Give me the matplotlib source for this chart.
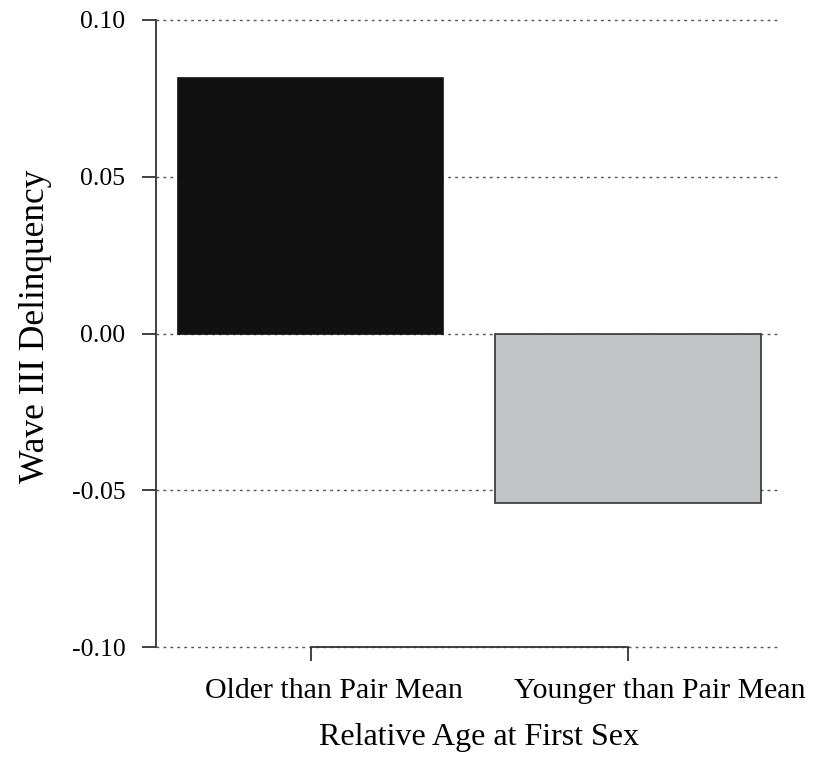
import matplotlib
matplotlib.use("Agg")
import matplotlib.pyplot as plt
from matplotlib.transforms import blended_transform_factory

categories = ["Older than Pair Mean", "Younger than Pair Mean"]
values = [0.0815, -0.054]
colors = ["#111111", "#c3c4c6"]
yticks = [-0.10, -0.05, 0.00, 0.05, 0.10]
ytick_labels = ["-0.10", "-0.05", "0.00", "0.05", "0.10"]

plt.rcParams['font.family'] = ['Liberation Serif', 'DejaVu Serif']

fig = plt.figure(figsize=(8.29, 7.58), dpi=100)
ax = fig.add_axes([156/829, 111/758, 622/829, 627/758])

pos = [1, 2]
ax.bar(pos, values, width=0.836, color=colors, edgecolor=["#111111", "#333333"],
       linewidth=1.2, zorder=2)

ax.set_ylim(-0.10, 0.10)
ax.set_xlim(0.513, 2.473)
ax.set_yticks(yticks)
ax.set_yticklabels(ytick_labels)
for y in yticks:
    ax.axhline(y, color="#555555", linestyle=(0, (2, 3)), linewidth=1.0, zorder=1,
               clip_on=False)

ax.spines['top'].set_visible(False)
ax.spines['right'].set_visible(False)
ax.spines['left'].set_linewidth(1.3)
ax.spines['left'].set_color("#333333")
ax.spines['bottom'].set_bounds(1, 2)
ax.spines['bottom'].set_linewidth(1.3)
ax.spines['bottom'].set_color("#333333")
ax.spines['bottom'].set_zorder(3)

ax.set_xticks(pos)
ax.set_xticklabels(["", ""])
ax.tick_params(axis='x', length=10, width=1.3, color="#333333")
ax.tick_params(axis='y', length=10, width=1.3, color="#333333", labelsize=18.5, pad=12)

trans = blended_transform_factory(ax.transData, ax.transAxes)
label_x = [1.075, 2.1]
for x, lab in zip(label_x, categories):
    ax.text(x, -0.07, lab, transform=trans, ha='center', va='center', fontsize=21.5)

ax.text(0.52, -0.145, "Relative Age at First Sex", transform=ax.transAxes,
        ha='center', va='center', fontsize=23)
fig.text(36/829, 1 - 326/758, "Wave III Delinquency", rotation=90,
         ha='center', va='center', fontsize=25.5)

fig.savefig("out.png", dpi=100)
